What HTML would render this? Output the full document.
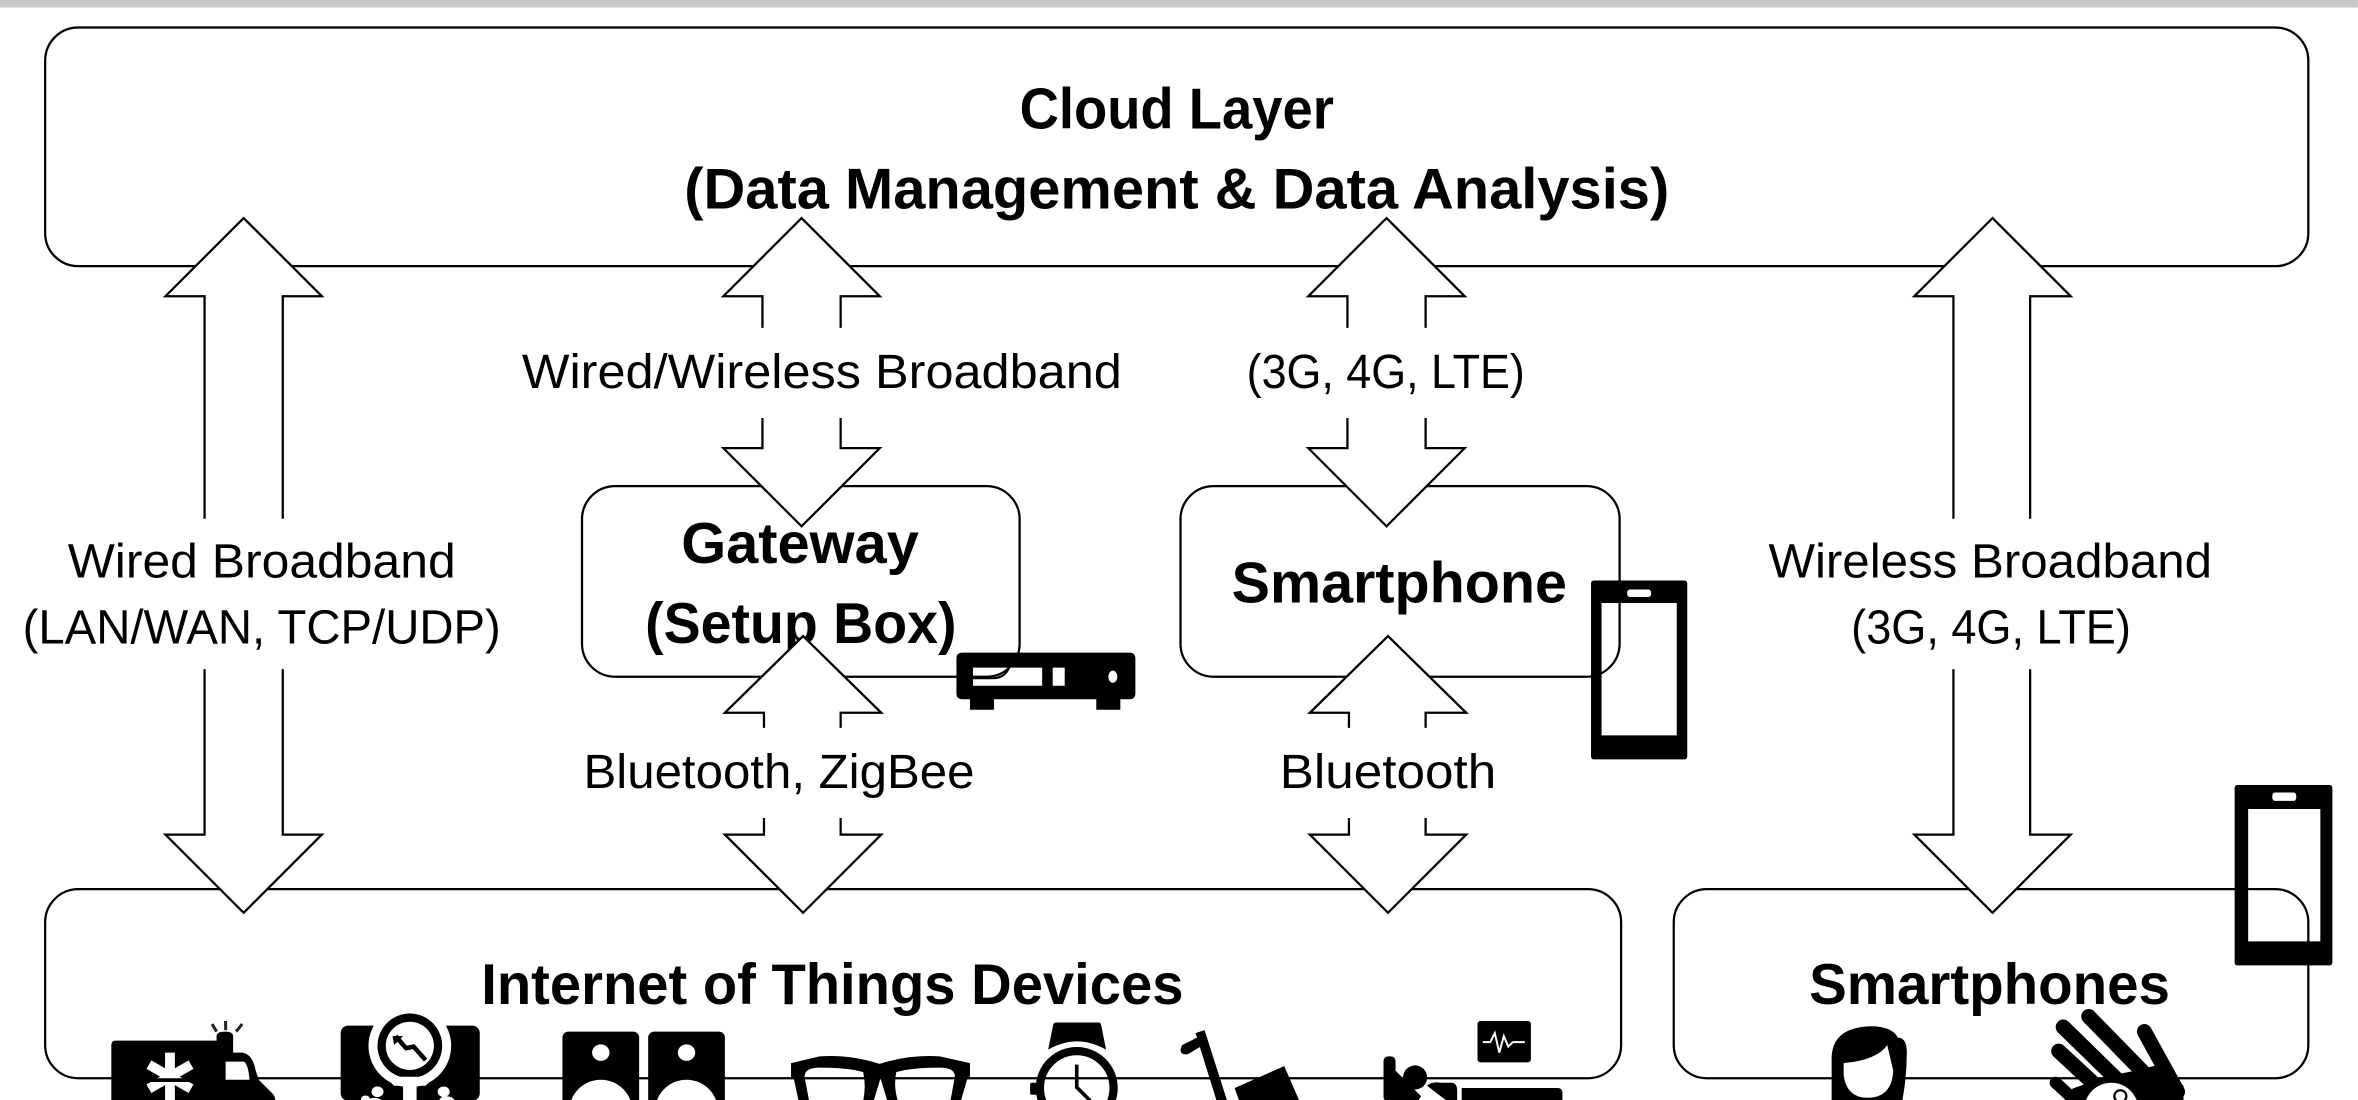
<!DOCTYPE html>
<html><head><meta charset="utf-8"><style>
html,body{margin:0;padding:0;background:#fff;width:2358px;height:1100px;overflow:hidden}
svg{display:block}
text{font-family:"Liberation Sans",Arial,sans-serif;fill:#000}
.b{font-weight:bold;font-size:38px}
.r{font-size:32px}
.box{fill:none;stroke:#000;stroke-width:1.5}
.ar{fill:#fff;stroke:#000;stroke-width:1.5;stroke-linejoin:miter}
</style></head><body>
<svg width="2358" height="1100" viewBox="0 0 1568 731.5" xmlns="http://www.w3.org/2000/svg">
<rect width="1568" height="731.5" fill="#fff"/>
<rect width="1568" height="5" fill="#c8c8c8"/>
<rect class="box" x="30" y="18.300" width="1505" height="158.700" rx="22"/>
<rect class="box" x="387" y="323.300" width="291" height="126.700" rx="22"/>
<rect class="box" x="785" y="323.300" width="292" height="126.700" rx="22"/>
<rect class="box" x="30" y="591.300" width="1048" height="125.700" rx="22"/>
<rect class="box" x="1113" y="591.300" width="422" height="125.700" rx="22"/>

<text class="b" x="678" y="85.500" textLength="209" lengthAdjust="spacingAndGlyphs">Cloud Layer</text>
<text class="b" x="455" y="138.500" textLength="655" lengthAdjust="spacingAndGlyphs">(Data Management &amp; Data Analysis)</text>
<text class="b" x="453" y="374.500" textLength="158" lengthAdjust="spacingAndGlyphs">Gateway</text>
<text class="b" x="429" y="427.500" textLength="207" lengthAdjust="spacingAndGlyphs">(Setup Box)</text>
<text class="b" x="819" y="400.500" textLength="223" lengthAdjust="spacingAndGlyphs">Smartphone</text>
<text class="b" x="320" y="667.500" textLength="467" lengthAdjust="spacingAndGlyphs">Internet of Things Devices</text>
<text class="b" x="1203" y="667.500" textLength="240" lengthAdjust="spacingAndGlyphs">Smartphones</text>

<text class="r" x="347" y="258" textLength="399" lengthAdjust="spacingAndGlyphs">Wired/Wireless Broadband</text>
<text class="r" x="829" y="258" textLength="185" lengthAdjust="spacingAndGlyphs">(3G, 4G, LTE)</text>
<text class="r" x="45" y="384" textLength="258" lengthAdjust="spacingAndGlyphs">Wired Broadband</text>
<text class="r" x="15" y="428" textLength="318" lengthAdjust="spacingAndGlyphs">(LAN/WAN, TCP/UDP)</text>
<text class="r" x="1176" y="384" textLength="295" lengthAdjust="spacingAndGlyphs">Wireless Broadband</text>
<text class="r" x="1231" y="428" textLength="186" lengthAdjust="spacingAndGlyphs">(3G, 4G, LTE)</text>
<text class="r" x="388" y="524" textLength="260" lengthAdjust="spacingAndGlyphs">Bluetooth, ZigBee</text>
<text class="r" x="851" y="524" textLength="144" lengthAdjust="spacingAndGlyphs">Bluetooth</text>

<!-- arrows -->
<path class="ar" d="M136 345V197H110L162 145L214 197H188V345"/>
<path class="ar" d="M136 445V555H110L162 607L214 555H188V445"/>
<path class="ar" d="M507 218V197H481L533 145L585 197H559V218"/>
<path class="ar" d="M507 278V298H481L533 350L585 298H559V278"/>
<path class="ar" d="M896 218V197H870L922 145L974 197H948V218"/>
<path class="ar" d="M896 278V298H870L922 350L974 298H948V278"/>
<path class="ar" d="M508 484V474H482L534 423L586 474H559V484"/>
<path class="ar" d="M508 544V555H482L534 607L586 555H559V544"/>
<path class="ar" d="M897 484V474H871L923 423L975 474H948V484"/>
<path class="ar" d="M897 544V555H871L923 607L975 555H948V544"/>
<path class="ar" d="M1299 345V197H1273L1325 145L1377 197H1350V345"/>
<path class="ar" d="M1299 445V555H1273L1325 607L1377 555H1350V445"/>

<!-- set-top box -->
<path fill-rule="evenodd" d="M640 434H751Q755 434 755 438V461Q755 465 751 465H745V472H729V465H661V472H645V465H640Q636 465 636 461V438Q636 434 640 434ZM647 444V456H693V444ZM700 444V456H708V444ZM740 446A3 4 0 0 0 740 454A3 4 0 0 0 740 446Z"/>
<path d="M647 451H660Q668 451 671 444" fill="none" stroke="#000" stroke-width="1.400"/>

<!-- phones -->
<path fill-rule="evenodd" d="M1060 386H1120Q1122 386 1122 388V503Q1122 505 1120 505H1060Q1058 505 1058 503V388Q1058 386 1060 386ZM1065 401V489H1115V401ZM1084 392Q1082 392 1082 394.500Q1082 397 1084 397H1096Q1098 397 1098 394.500Q1098 392 1096 392Z"/>
<path fill-rule="evenodd" d="M1488 522H1549Q1551 522 1551 524V640Q1551 642 1549 642H1488Q1486 642 1486 640V524Q1486 522 1488 522ZM1495 538V626H1543V538ZM1513 527Q1511 527 1511 529.800Q1511 532.600 1513 532.600H1525Q1527 532.600 1527 529.800Q1527 527 1525 527Z"/>

<!-- ambulance -->
<path d="M77 692H144V689Q144 686 149.500 686Q155 686 155 689V700H161Q168 701 170 712L172 718L181 727Q183 729 183 732H74V695Q74 692 77 692Z"/>
<path d="M150 706H162Q165 707 166 719H150Z" fill="#fff"/>
<path d="M150 718H170V719.500H150Z" fill="#000"/>
<g stroke="#fff" stroke-width="6.500"><path d="M113 700V732M99 708L127 724M127 708L99 724"/></g>
<path d="M97 717H129V719.500H97Z"/>
<g stroke="#222" stroke-width="2"><path d="M150 679V685M141 681L144 686M161 681L157 686"/></g>

<!-- scale -->
<rect x="226.500" y="682" width="92.500" height="50" rx="5"/>
<circle cx="272.500" cy="695.500" r="27.500" fill="#fff"/>
<circle cx="272.500" cy="695.500" r="21.500" fill="#000"/>
<circle cx="272.500" cy="695.500" r="16" fill="#fff"/>
<path d="M263 689L270 697L275 696L283 705" stroke="#000" stroke-width="3" fill="none"/>
<path d="M261 689L268 689L262 695Z"/>
<path d="M256 716H289L283 722H277V732H268V722H262Z" fill="#fff"/>
<g fill="#fff"><ellipse cx="251" cy="726" rx="4" ry="3.500"/><ellipse cx="295" cy="726" rx="4" ry="3.500"/><ellipse cx="243" cy="731" rx="3" ry="2.500"/><ellipse cx="297" cy="732" rx="5" ry="3"/><ellipse cx="249" cy="733" rx="5" ry="3"/></g>

<!-- speakers -->
<g>
<rect x="374" y="686" width="51" height="50" rx="4"/>
<rect x="431" y="686" width="51" height="50" rx="4"/>
<ellipse cx="399.500" cy="700" rx="5.800" ry="5.500" fill="#fff"/>
<ellipse cx="456.500" cy="700" rx="5.800" ry="5.500" fill="#fff"/>
<circle cx="399.500" cy="739" r="21" fill="#fff"/>
<circle cx="456.500" cy="739" r="21" fill="#fff"/>
</g>

<!-- glasses -->
<path d="M526 707L545 702.500Q565 701 585 707.500Q605 701 625 702.500L645 707V716L643 718L639 732H632L635 716Q635 710 625 710Q606 710 596 713Q594 722 597 732H590L585.500 717L581 732H574Q576 722 574 713Q564 710 545 710Q535 710 535 716L538 732H531L528 718L526 716Z"/>

<!-- watch -->
<path d="M702 680H731Q732 680 732.500 683L735.500 698Q716 687 697 698L700 683Q700.500 680 702 680Z"/>
<circle cx="716" cy="723.500" r="24.500" fill="none" stroke="#000" stroke-width="5.500"/>
<rect x="685" y="720" width="5" height="8" rx="1"/>
<path d="M716 708V723L725 732" fill="none" stroke="#000" stroke-width="2.400"/>

<!-- cart -->
<path d="M795 687L801 685L816 732H809Z"/>
<path d="M786 695L798 689L800 695L790 701Q785 702 785 698Z"/>
<path d="M821 723.500L854 709L864 732H824Z"/>

<!-- bed + monitor -->
<rect x="920" y="702.500" width="8" height="30" rx="3"/>
<circle cx="941" cy="716.500" r="8"/>
<path d="M927 711L945 729L943 732H927Z"/>
<path d="M949 722Q952 719 958 720H966Q969 721 969 725V732H962Z"/>
<path d="M972 723.500H1036Q1039 723.500 1039 727V732H972Z"/>
<rect x="982.500" y="679" width="35.500" height="27.500" rx="2"/>
<path d="M986 693H991L994 687L997 700L1000 689L1003 696L1006 693H1014" fill="none" stroke="#fff" stroke-width="1.300"/>

<!-- woman -->
<path d="M1242 682.500Q1258 682 1262 690Q1268 690 1268 700Q1268 716 1265 732H1218V704Q1218 684 1242 682.500Z"/>
<path d="M1226 707Q1248 705 1255 695Q1258 708 1259 712Q1258 730 1242 730Q1228 730 1226 715Z" fill="#fff"/>

<!-- hand -->
<g stroke="#000" stroke-linecap="round" fill="none">
<path d="M1372 683L1412 722" stroke-width="10"/>
<path d="M1389 676L1432 720" stroke-width="10"/>
<path d="M1369 699L1396 724" stroke-width="10"/>
<path d="M1426 686L1448 726" stroke-width="10"/>
<path d="M1367 720L1380 732" stroke-width="8"/>
</g>
<path d="M1378 724L1400 716L1420 712L1436 708L1452 722L1452 732H1378Z"/>
<circle cx="1404" cy="738" r="18" fill="#fff"/>
<circle cx="1410" cy="729" r="4" fill="none" stroke="#000" stroke-width="1.500"/>
</svg>
</body></html>
